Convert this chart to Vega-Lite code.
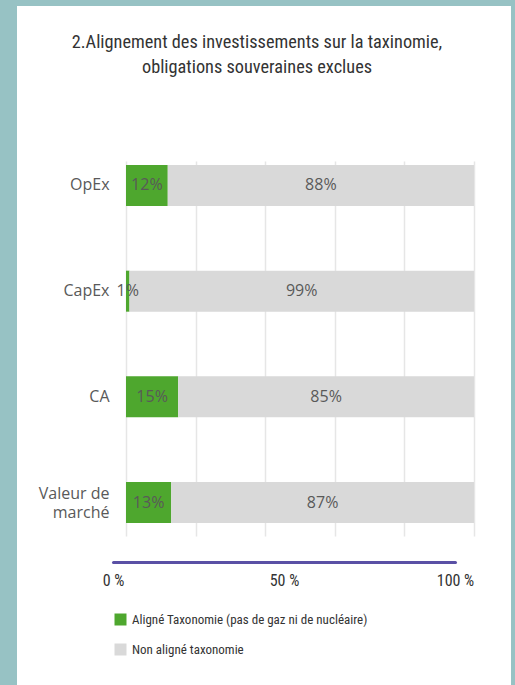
{
  "$schema": "https://vega.github.io/schema/vega-lite/v6.json",
  "width": 494,
  "height": 679,
  "autosize": {"type": "none"},
  "padding": {"left": 17, "top": 6, "right": 4, "bottom": 0},
  "background": "#97C2C4",
  "config": {"view": {"fill": "#FFFFFF", "stroke": null}},
  "title": {
    "text": ["2.Alignement des investissements sur la taxinomie,", "obligations souveraines exclues"],
    "font": "Liberation Sans Narrow, Roboto Condensed, DejaVu Sans Condensed, Roboto",
    "fontSize": 18.3,
    "fontWeight": "normal",
    "color": "#333333",
    "anchor": "middle",
    "frame": "group",
    "offset": -85,
    "baseline": "alphabetic",
    "lineHeight": 25,
    "dx": -7
  },
  "data": {
    "values": [
      {"cat": "OpEx", "serie": "Aligné Taxonomie (pas de gaz ni de nucléaire)", "v": 0.12},
      {"cat": "OpEx", "serie": "Non aligné taxonomie", "v": 0.88},
      {"cat": "CapEx", "serie": "Aligné Taxonomie (pas de gaz ni de nucléaire)", "v": 0.01},
      {"cat": "CapEx", "serie": "Non aligné taxonomie", "v": 0.99},
      {"cat": "CA", "serie": "Aligné Taxonomie (pas de gaz ni de nucléaire)", "v": 0.15},
      {"cat": "CA", "serie": "Non aligné taxonomie", "v": 0.85},
      {"cat": "Valeur de marché", "serie": "Aligné Taxonomie (pas de gaz ni de nucléaire)", "v": 0.13},
      {"cat": "Valeur de marché", "serie": "Non aligné taxonomie", "v": 0.87}
    ]
  },
  "layer": [
    {
      "layer": [
        {
          "mark": {"type": "bar"},
          "encoding": {
            "y": {
              "field": "cat",
              "type": "nominal",
              "sort": ["OpEx", "CapEx", "CA", "Valeur de marché"],
              "scale": {"range": [149, 524], "paddingInner": 0.612, "paddingOuter": 0.08, "align": 0.59},
              "axis": {
                "orient": "left",
                "offset": -96,
                "labelPadding": 4,
                "ticks": false,
                "domain": false,
                "grid": false,
                "title": null,
                "labelFont": "Open Sans",
                "labelFontSize": 16,
                "labelColor": "#595959",
                "labelLineHeight": 19,
                "labelOffset": {"condition": {"test": "datum.value == 'Valeur de marché'", "value": -9}, "value": 0},
                "labelExpr": "datum.value == 'Valeur de marché' ? ['Valeur de', 'marché'] : datum.value"
              }
            },
            "x": {
              "field": "v",
              "type": "quantitative",
              "stack": "zero",
              "scale": {"domain": [0, 1], "range": [109, 457], "nice": false, "zero": false},
              "axis": {
                "grid": true,
                "labels": false,
                "ticks": false,
                "domain": false,
                "title": null,
                "values": [0, 0.2, 0.4, 0.6, 0.8, 1],
                "gridColor": "#E6E6E6",
                "gridWidth": 1.5
              }
            },
            "color": {
              "field": "serie",
              "type": "nominal",
              "scale": {
                "domain": ["Aligné Taxonomie (pas de gaz ni de nucléaire)", "Non aligné taxonomie"],
                "range": ["#4EA72E", "#D9D9D9"]
              },
              "legend": {
                "orient": "none",
                "legendX": 97,
                "legendY": 607,
                "title": null,
                "symbolType": "square",
                "symbolSize": 144,
                "symbolStrokeWidth": 0,
                "labelFont": "Liberation Sans Narrow, Roboto Condensed, DejaVu Sans Condensed, Roboto",
                "labelFontSize": 13,
                "labelColor": "#333333",
                "labelLimit": 400,
                "rowPadding": 16,
                "labelOffset": 5
              }
            }
          }
        },
        {
          "mark": {"type": "text", "font": "Open Sans", "fontSize": 16, "color": "#595959", "align": "center", "baseline": "middle"},
          "encoding": {
            "y": {"field": "cat", "type": "nominal", "sort": ["OpEx", "CapEx", "CA", "Valeur de marché"]},
            "x": {"field": "v", "type": "quantitative", "stack": "zero", "bandPosition": 0.5},
            "detail": {"field": "serie", "type": "nominal"},
            "text": {"field": "v", "type": "quantitative", "format": ".0%"}
          }
        }
      ]
    },
    {
      "mark": {"type": "rule", "opacity": 0},
      "encoding": {
        "x": {
          "field": "v",
          "type": "quantitative",
          "scale": {"domain": [0, 1], "range": [96, 438], "nice": false, "zero": false},
          "axis": {
            "orient": "bottom",
            "values": [0, 0.5, 1],
            "labelExpr": "datum.value * 100 + ' %'",
            "labelFlush": false,
            "offset": -123,
            "domainColor": "#5A50A5",
            "domainWidth": 3,
            "domainCap": "round",
            "ticks": false,
            "grid": false,
            "labelPadding": 10,
            "labelFont": "Liberation Sans Narrow, Roboto Condensed, DejaVu Sans Condensed, Roboto",
            "labelFontSize": 16,
            "labelColor": "#333333",
            "title": null
          }
        }
      }
    }
  ],
  "resolve": {"scale": {"x": "independent"}, "axis": {"x": "independent"}}
}
